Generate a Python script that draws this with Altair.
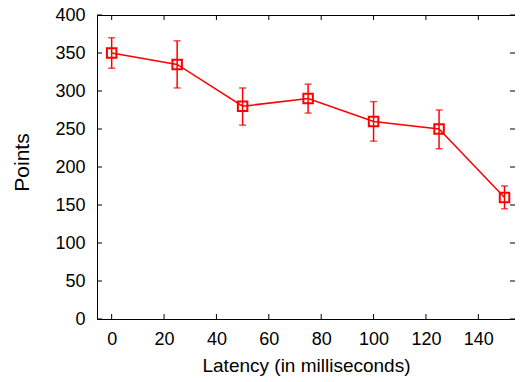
import altair as alt
import pandas as pd

latency = [0, 25, 50, 75, 100, 125, 150]
points = [350, 335, 280, 290, 260, 250, 160]
err_low = [330, 304, 255, 271, 234, 224, 145]
err_high = [370, 366, 304, 309, 286, 275, 175]

x_ticks = [0, 20, 40, 60, 80, 100, 120, 140]
y_ticks = [0, 50, 100, 150, 200, 250, 300, 350, 400]

W, H = 418, 304
RED = "#ff0000"
FONT = "Liberation Sans"
FS = 18
XT = "Latency (in milliseconds)"
YT = "Points"

df = pd.DataFrame({"lat": latency, "pts": points, "lo": err_low, "hi": err_high})
xt = pd.DataFrame({"v": x_ticks})
yt = pd.DataFrame({"v": y_ticks})

xscale = alt.Scale(domain=[-5.6, 154], nice=False, zero=False)
yscale = alt.Scale(domain=[0, 400], nice=False)

xax = alt.Axis(values=x_ticks, ticks=False, tickSize=0, grid=False, labelPadding=11,
               labelFont=FONT, labelFontSize=FS, titleFont=FONT, titleFontSize=19,
               titleFontWeight="normal", titlePadding=8, labelColor="black",
               titleColor="black", domainColor="black", labelFlush=False,
               labelOverlap=False)
yax = alt.Axis(values=y_ticks, ticks=False, tickSize=0, grid=False, labelPadding=12,
               labelFont=FONT, labelFontSize=FS, titleFont=FONT, titleFontSize=21,
               titleFontWeight="normal", titlePadding=22, titleY=147, labelColor="black",
               titleColor="black", domainColor="black", labelFlush=False,
               labelOverlap=False)


def xs(field):
    return alt.X(field, scale=xscale, axis=xax, title=XT)


def ys(field):
    return alt.Y(field, scale=yscale, axis=yax, title=YT)


base = alt.Chart(df)

line = base.mark_line(color=RED, strokeWidth=1.5).encode(x=xs("lat:Q"), y=ys("pts:Q"))
bars = base.mark_rule(color=RED, strokeWidth=1.5).encode(
    x=xs("lat:Q"), y=ys("lo:Q"), y2="hi:Q")
cap_lo = base.mark_tick(color=RED, orient="horizontal", size=7, thickness=1.5).encode(
    x=xs("lat:Q"), y=ys("lo:Q"))
cap_hi = base.mark_tick(color=RED, orient="horizontal", size=7, thickness=1.5).encode(
    x=xs("lat:Q"), y=ys("hi:Q"))
pts = base.mark_point(shape="square", filled=False, color=RED, size=90, strokeWidth=2,
                      opacity=1).encode(x=xs("lat:Q"), y=ys("pts:Q"))

tb = alt.Chart(xt).mark_rule(color="black", strokeWidth=1).encode(
    x=xs("v:Q"), y=alt.value(H), y2=alt.value(H - 5))
tt = alt.Chart(xt).mark_rule(color="black", strokeWidth=1).encode(
    x=xs("v:Q"), y=alt.value(0), y2=alt.value(5))
tl = alt.Chart(yt).mark_rule(color="black", strokeWidth=1).encode(
    y=ys("v:Q"), x=alt.value(0), x2=alt.value(5))
tr = alt.Chart(yt).mark_rule(color="black", strokeWidth=1).encode(
    y=ys("v:Q"), x=alt.value(W), x2=alt.value(W - 5))

chart = alt.layer(line, tb, tt, tl, tr, bars, cap_lo, cap_hi, pts).properties(
    width=W, height=H,
    padding={"left": 89, "top": 7, "right": 0, "bottom": 59},
    autosize=alt.AutoSizeParams(type="none"),
    background="white",
).configure_view(stroke="black", strokeWidth=1)

chart.save("out.html", embed_options={"renderer": "svg", "actions": False})
